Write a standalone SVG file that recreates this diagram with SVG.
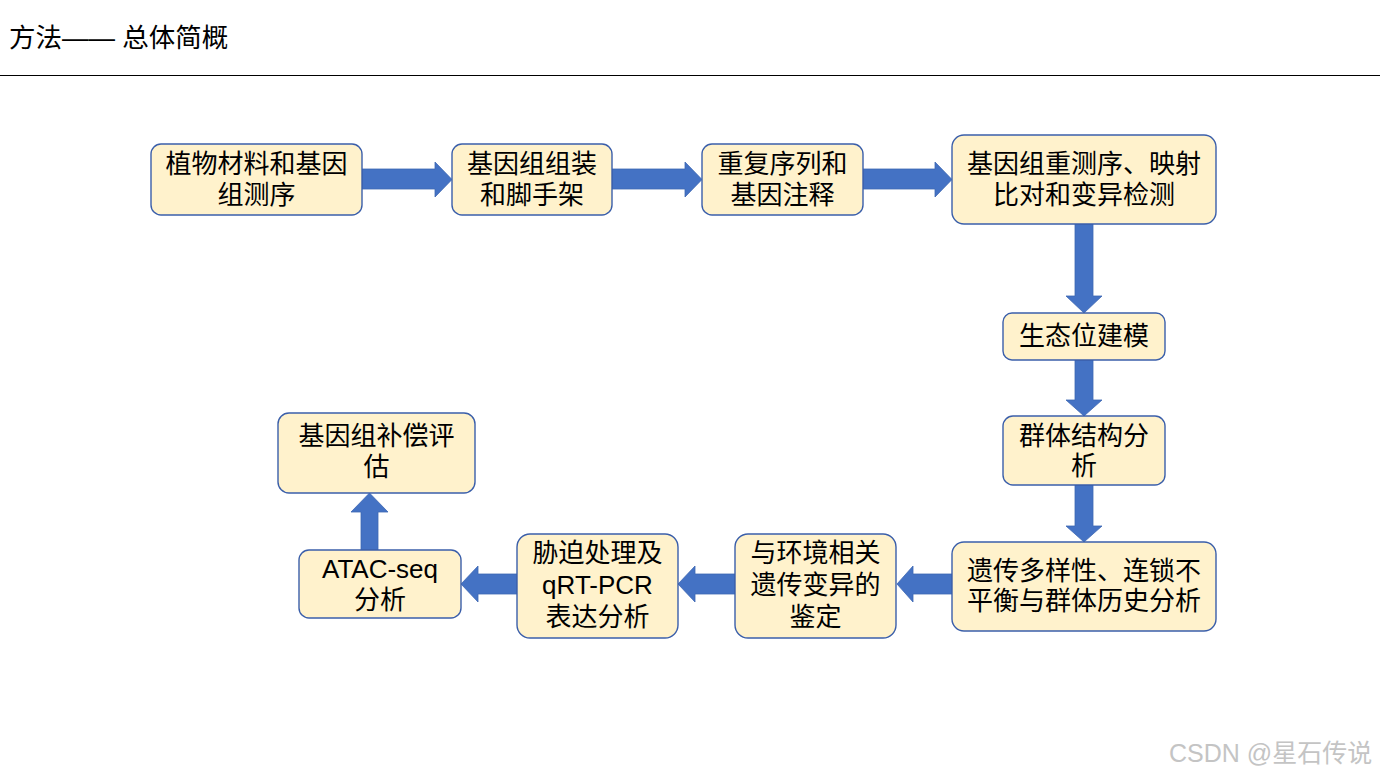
<svg xmlns="http://www.w3.org/2000/svg" width="1380" height="776" viewBox="0 0 1380 776">
<style>
.box{fill:#FFF2CC;stroke:#3B5FAA;stroke-width:1.4}
.t{font-family:"Liberation Sans","Noto Sans CJK SC",sans-serif;font-size:26px;fill:#000;text-anchor:middle;dominant-baseline:central}
.arr{fill:#4472C4;stroke:#3D67B3;stroke-width:0.8}
.title{font-family:"Liberation Sans","Noto Sans CJK SC",sans-serif;font-size:26.5px;fill:#000}
.wm{font-family:"Liberation Sans","Noto Sans CJK SC",sans-serif;font-size:25px;fill:#c4c4c4}
</style>
<rect width="1380" height="776" fill="#fff"/>
<text class="title" x="9" y="47">方法—— 总体简概</text>
<line x1="0" y1="75.5" x2="1380" y2="75.5" stroke="#000" stroke-width="1.2"/>
<g id="connectors">
<polygon class="arr" points="362,169 435,169 435,162 452,179.5 435,197 435,189 362,189"/>
<polygon class="arr" points="612,169 685,169 685,162 702,179.5 685,197 685,189 612,189"/>
<polygon class="arr" points="863,169 935,169 935,162 952,179.5 935,197 935,189 863,189"/>
<polygon class="arr" points="1075,224 1075,296 1066,296 1084,313 1102,296 1093,296 1093,224"/>
<polygon class="arr" points="1075,360 1075,400 1066,400 1084,416 1102,400 1093,400 1093,360"/>
<polygon class="arr" points="1075,485 1075,526 1066,526 1084,542 1102,526 1093,526 1093,485"/>
<polygon class="arr" points="952,574 913,574 913,566 897,584 913,602 913,594 952,594"/>
<polygon class="arr" points="735,574 695,574 695,566 678,584 695,602 695,594 735,594"/>
<polygon class="arr" points="517,574 478,574 478,566 461,584 478,602 478,594 517,594"/>
<polygon class="arr" points="361,550 361,512 351,512 369.5,493 388,512 378,512 378,550"/>
</g>
<g id="n1"><rect class="box" x="151" y="144" width="211" height="71" rx="10"/><text class="t" x="256.5" y="164">植物材料和基因</text><text class="t" x="256.5" y="195">组测序</text></g>
<g id="n2"><rect class="box" x="452" y="144" width="160" height="71" rx="10"/><text class="t" x="532" y="164">基因组组装</text><text class="t" x="532" y="195">和脚手架</text></g>
<g id="n3"><rect class="box" x="702" y="144" width="161" height="71" rx="10"/><text class="t" x="782.5" y="164">重复序列和</text><text class="t" x="782.5" y="195">基因注释</text></g>
<g id="n4"><rect class="box" x="952" y="135" width="264" height="89" rx="12"/><text class="t" x="1084" y="164">基因组重测序、映射</text><text class="t" x="1084" y="195">比对和变异检测</text></g>
<g id="n5"><rect class="box" x="1003" y="313" width="162" height="47" rx="9"/><text class="t" x="1084" y="336">生态位建模</text></g>
<g id="n6"><rect class="box" x="1003" y="416" width="162" height="69" rx="10"/><text class="t" x="1084" y="436">群体结构分</text><text class="t" x="1084" y="466">析</text></g>
<g id="n7"><rect class="box" x="952" y="542" width="264" height="89" rx="12"/><text class="t" x="1084" y="571">遗传多样性、连锁不</text><text class="t" x="1084" y="601">平衡与群体历史分析</text></g>
<g id="n8"><rect class="box" x="735" y="534" width="161" height="104" rx="13"/><text class="t" x="815.5" y="553">与环境相关</text><text class="t" x="815.5" y="585">遗传变异的</text><text class="t" x="815.5" y="617">鉴定</text></g>
<g id="n9"><rect class="box" x="517" y="534" width="161" height="104" rx="13"/><text class="t" x="597.5" y="553">胁迫处理及</text><text class="t" x="597.5" y="585">qRT-PCR</text><text class="t" x="597.5" y="617">表达分析</text></g>
<g id="n10"><rect class="box" x="299" y="550" width="162" height="68" rx="10"/><text class="t" x="380" y="569">ATAC-seq</text><text class="t" x="380" y="600">分析</text></g>
<g id="n11"><rect class="box" x="278" y="413" width="197" height="80" rx="11"/><text class="t" x="376.5" y="436">基因组补偿评</text><text class="t" x="376.5" y="467">估</text></g>
<text class="wm" x="1169" y="762">CSDN @星石传说</text>
</svg>
